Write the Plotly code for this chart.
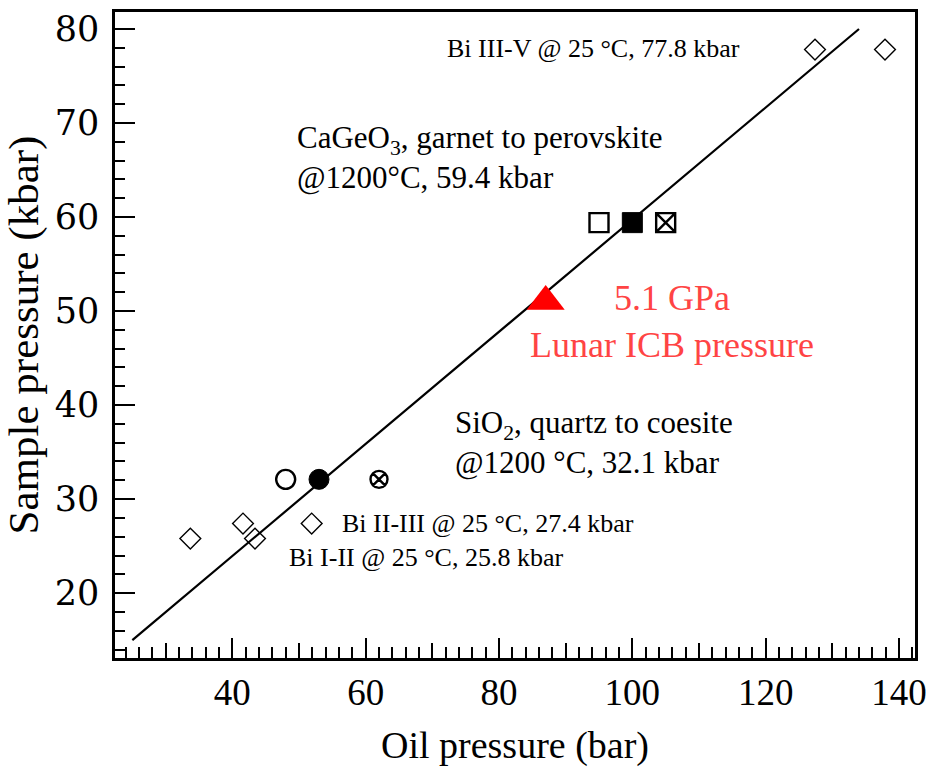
import plotly.graph_objects as go

# Bi calibration transitions at 25 °C (open diamonds)
bi_oil = [33.7, 43.4, 41.6, 51.9, 127.4, 137.9]
bi_sample = [25.8, 25.8, 27.4, 27.4, 77.8, 77.8]

# SiO2 quartz -> coesite at 1200 °C
sio2_sample = 32.1
sio2_open_oil = [48.0]
sio2_filled_oil = [53.0]
sio2_cross_oil = [62.0]

# CaGeO3 garnet -> perovskite at 1200 °C
cageo3_sample = 59.4
cageo3_open_oil = [95.0]
cageo3_filled_oil = [100.0]
cageo3_cross_oil = [105.0]

# Lunar inner-core boundary pressure (5.1 GPa = 51 kbar)
lunar_oil = [87.0]
lunar_sample = [51.0]

# Linear calibration fit: sample pressure vs oil pressure
fit_slope = 0.5963
fit_intercept = 0.09
fit_oil = [25.0, 134.0]
fit_sample = [fit_slope * x + fit_intercept for x in fit_oil]

# Axis ticks
x_major = [40, 60, 80, 100, 120, 140]
x_medium = [30, 50, 70, 90, 110, 130]
y_major = [20, 30, 40, 50, 60, 70, 80]

SERIF = "Liberation Serif, Times New Roman, serif"

fig = go.Figure()

fig.add_trace(go.Scatter(x=fit_oil, y=fit_sample, mode="lines",
                         line=dict(color="black", width=2.2), showlegend=False))

fig.add_trace(go.Scatter(x=bi_oil, y=bi_sample, mode="markers",
                         marker=dict(symbol="diamond-open", size=16, color="black",
                                     line=dict(width=1.4, color="black")),
                         showlegend=False))

def point(xs, yv, symbol, size, width=2.4, color="black"):
    fig.add_trace(go.Scatter(x=xs, y=[yv] * len(xs), mode="markers",
                             marker=dict(symbol=symbol, size=size, color=color,
                                         line=dict(width=width, color=color)),
                             showlegend=False))

point(sio2_open_oil, sio2_sample, "circle-open", 19)
point(sio2_filled_oil, sio2_sample, "circle", 20, width=1)
point(sio2_cross_oil, sio2_sample, "circle-x-open", 17)
point(cageo3_open_oil, cageo3_sample, "square-open", 19)
point(cageo3_filled_oil, cageo3_sample, "square", 20, width=1)
point(cageo3_cross_oil, cageo3_sample, "square-x-open", 19)

fig.add_trace(go.Scatter(x=lunar_oil, y=lunar_sample, mode="markers",
                         marker=dict(symbol="triangle-up", size=33, color="#ff0000",
                                     line=dict(width=0)),
                         showlegend=False))

# overlay axis carrying the 10-bar intermediate ticks
fig.add_trace(go.Scatter(x=[], y=[], xaxis="x2", showlegend=False))

text_font = dict(family=SERIF, size=26, color="black")
big_font = dict(family=SERIF, size=31, color="black")

annotations = [
    dict(x=71.9, y=77.9, text="Bi III-V @ 25 °C, 77.8 kbar", font=text_font),
    dict(x=49.4, y=66.3, text="CaGeO<sub>3</sub>, garnet to perovskite<br>@1200°C, 59.4 kbar",
         font=big_font),
    dict(x=73.1, y=36.0, text="SiO<sub>2</sub>, quartz to coesite<br>@1200 °C, 32.1 kbar",
         font=big_font),
    dict(x=56.2, y=27.4, text="Bi II-III @ 25 °C, 27.4 kbar", font=text_font),
    dict(x=48.2, y=23.8, text="Bi I-II @ 25 °C, 25.8 kbar", font=text_font),
]
for a in annotations:
    fig.add_annotation(xref="x", yref="y", showarrow=False, xanchor="left",
                       yanchor="middle", align="left", **a)

fig.add_annotation(xref="x", yref="y", x=106.0, y=48.9, showarrow=False,
                   xanchor="center", yanchor="middle", align="center",
                   text="5.1 GPa<br>Lunar ICB pressure",
                   font=dict(family=SERIF, size=36, color="#ff4444"))

fig.update_layout(
    width=936, height=775,
    margin=dict(l=115, r=18, t=9, b=117),
    paper_bgcolor="white", plot_bgcolor="white",
    xaxis=dict(
        range=[22.4, 142.4], tickvals=x_major, ticktext=[str(v) for v in x_major],
        ticks="inside", ticklen=20, tickwidth=2.2, tickcolor="black",
        minor=dict(dtick=2, tick0=0, ticks="inside", ticklen=11, tickwidth=2,
                   tickcolor="black"),
        showline=True, linecolor="black", linewidth=2.6, mirror=True,
        showgrid=False, zeroline=False,
        tickfont=dict(family=SERIF, size=37, color="black"),
        ticklabelstandoff=0,
        title=dict(text="Oil pressure (bar)", standoff=20,
                   font=dict(family=SERIF, size=38, color="black")),
    ),
    xaxis2=dict(
        overlaying="x", matches="x", side="bottom", tickvals=x_medium,
        ticks="inside", ticklen=15, tickwidth=2, tickcolor="black",
        showticklabels=False, showline=False, showgrid=False, zeroline=False,
    ),
    yaxis=dict(
        range=[13.1, 81.8], tickvals=y_major, ticktext=[str(v) for v in y_major],
        ticks="inside", ticklen=20, tickwidth=2.2, tickcolor="black",
        minor=dict(dtick=2, tick0=0, ticks="inside", ticklen=10, tickwidth=2,
                   tickcolor="black"),
        showline=True, linecolor="black", linewidth=2.6, mirror=True,
        showgrid=False, zeroline=False,
        tickfont=dict(family="DejaVu Serif, serif", size=35, color="black"),
        ticklabelstandoff=6,
        title=dict(text="Sample pressure (kbar)", standoff=6,
                   font=dict(family=SERIF, size=43, color="black")),
    ),
)

fig.write_html("out.html")
